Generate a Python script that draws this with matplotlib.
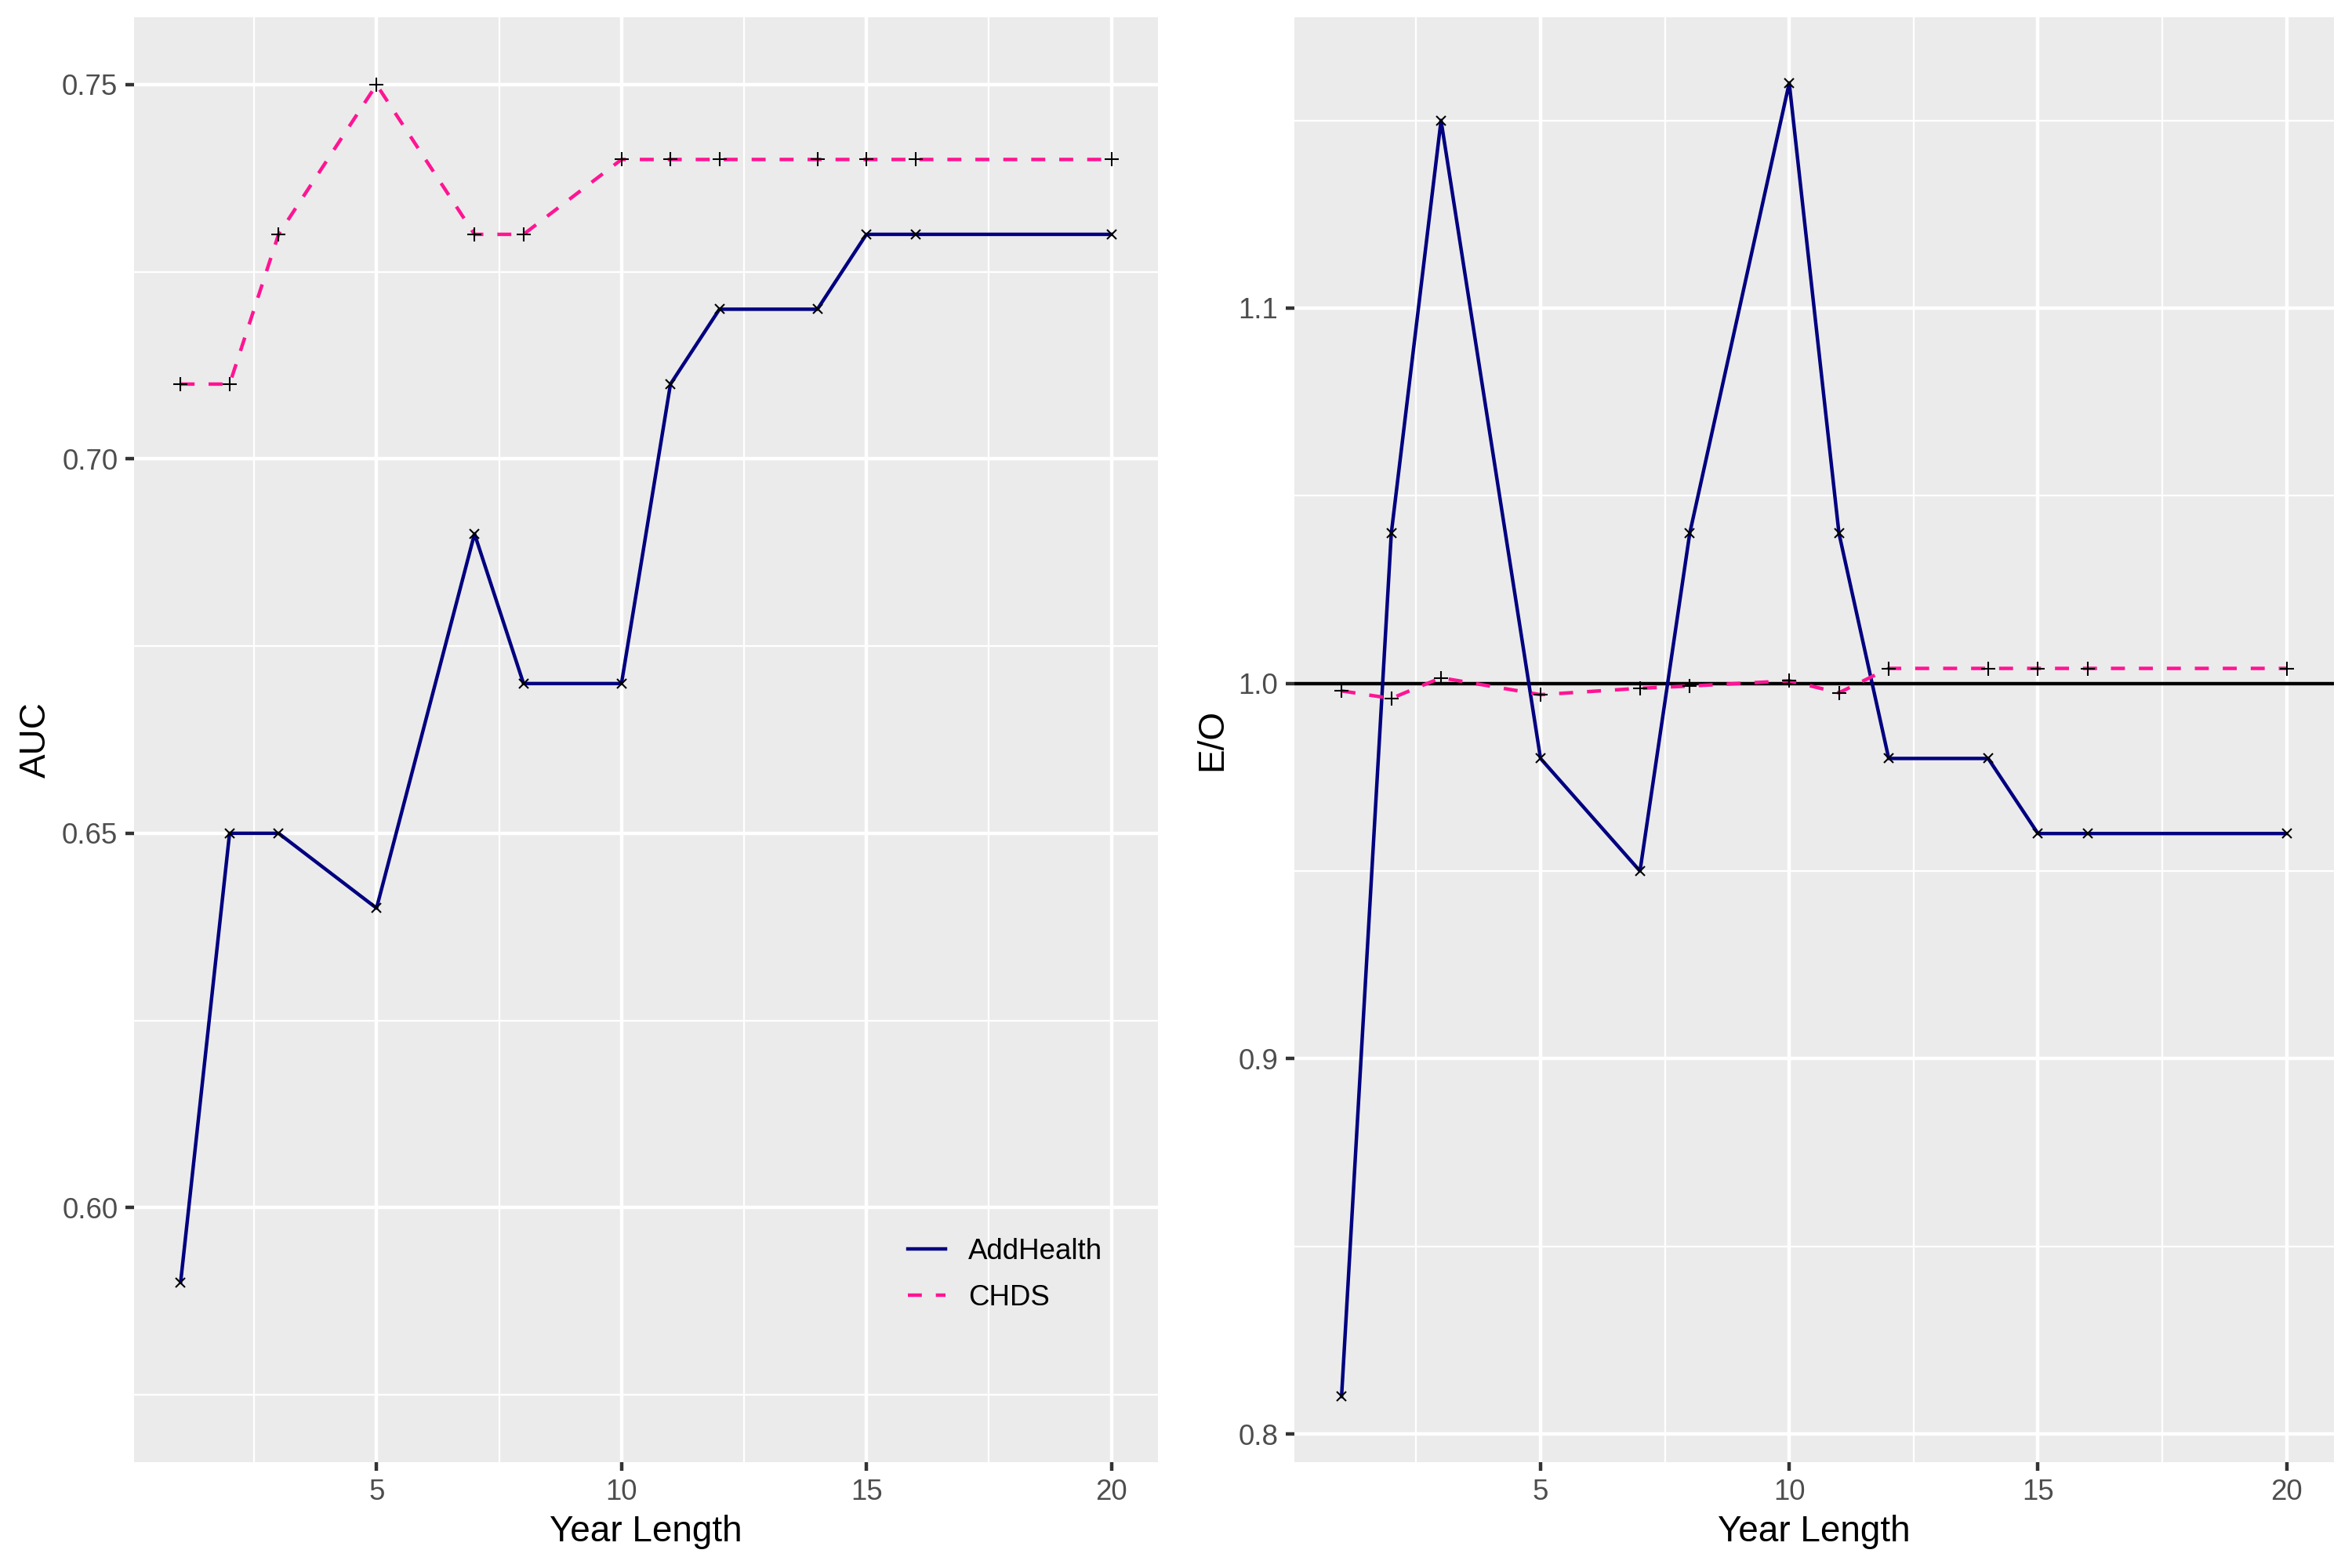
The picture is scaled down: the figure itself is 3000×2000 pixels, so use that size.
import matplotlib
matplotlib.use("Agg")
import matplotlib.pyplot as plt
from matplotlib.lines import Line2D
from matplotlib.ticker import FixedLocator

plt.rcParams['font.family'] = ['Liberation Sans', 'DejaVu Sans']

years = [1, 2, 3, 5, 7, 8, 10, 11, 12, 14, 15, 16, 20]
auc_addhealth = [0.59, 0.65, 0.65, 0.64, 0.69, 0.67, 0.67, 0.71, 0.72, 0.72, 0.73, 0.73, 0.73]
auc_chds = [0.71, 0.71, 0.73, 0.75, 0.73, 0.73, 0.74, 0.74, 0.74, 0.74, 0.74, 0.74, 0.74]
eo_addhealth = [0.81, 1.04, 1.15, 0.98, 0.95, 1.04, 1.16, 1.04, 0.98, 0.98, 0.96, 0.96, 0.96]
eo_chds = [0.998, 0.996, 1.0015, 0.997, 0.9987, 0.9993, 1.0007, 0.9975, 1.004, 1.004, 1.004, 1.004, 1.004]
series_names = ["AddHealth", "CHDS"]

x_major = [5, 10, 15, 20]
x_minor = [2.5, 7.5, 12.5, 17.5]
auc_major = [0.60, 0.65, 0.70, 0.75]
auc_minor = [0.575, 0.625, 0.675, 0.725]
eo_major = [0.8, 0.9, 1.0, 1.1]
eo_minor = [0.85, 0.95, 1.05, 1.15]

NAVY = "#000080"
PINK = "#FF1493"
LW = 1.07

fig = plt.figure(figsize=(10, 6.6667), dpi=300)
axL = fig.add_axes([0.057, 0.0675, 0.4353, 0.9215])
axR = fig.add_axes([0.5503, 0.0675, 0.442, 0.9215])


def style(ax, ymaj, ymin, ylim, ylabel, fmt):
    ax.set_facecolor("#EBEBEB")
    for s in ax.spines.values():
        s.set_visible(False)
    ax.set_xlim(0.05, 20.95)
    ax.set_ylim(*ylim)
    ax.xaxis.set_major_locator(FixedLocator(x_major))
    ax.xaxis.set_minor_locator(FixedLocator(x_minor))
    ax.yaxis.set_major_locator(FixedLocator(ymaj))
    ax.yaxis.set_minor_locator(FixedLocator(ymin))
    ax.set_xticklabels([str(v) for v in x_major])
    ax.set_yticklabels([fmt.format(v) for v in ymaj])
    ax.grid(which="major", color="white", linewidth=1.07)
    ax.grid(which="minor", color="white", linewidth=0.53)
    ax.set_axisbelow(True)
    ax.tick_params(which="major", length=2.75, width=1.07, color="#333333",
                   labelsize=8.8, labelcolor="#4D4D4D", pad=2.2)
    ax.tick_params(which="minor", length=0)
    ax.set_xlabel("Year Length", fontsize=11, color="black", labelpad=2.75)
    ax.set_ylabel(ylabel, fontsize=11, color="black", labelpad=2.75)


style(axL, auc_major, auc_minor, (0.566, 0.759), "AUC", "{:.2f}")
style(axR, eo_major, eo_minor, (0.7925, 1.1775), "E/O", "{:.1f}")

MK_X = dict(linestyle="none", marker="x", color="black", markersize=2.9,
            markeredgewidth=0.5, zorder=4)
MK_P = dict(linestyle="none", marker="+", color="black", markersize=4.4,
            markeredgewidth=0.5, zorder=4)

# Left panel
axL.plot(years, auc_addhealth, color=NAVY, lw=LW, zorder=3)
axL.plot(years, auc_chds, color=PINK, lw=LW, linestyle=(0, (4, 4)), zorder=3)
axL.plot(years, auc_addhealth, **MK_X)
axL.plot(years, auc_chds, **MK_P)

# Right panel
axR.axhline(1.0, color="black", lw=LW, zorder=2.5)
axR.plot(years, eo_addhealth, color=NAVY, lw=LW, zorder=3)
axR.plot(years, eo_chds, color=PINK, lw=LW, linestyle=(0, (4, 4)), zorder=3)
axR.plot(years, eo_addhealth, **MK_X)
axR.plot(years, eo_chds, **MK_P)

handles = [Line2D([], [], color=NAVY, lw=LW),
           Line2D([], [], color=PINK, lw=LW, linestyle=(0, (4, 4)))]
leg = axL.legend(handles, series_names, loc="center left",
                 bbox_to_anchor=(0.7557, 0.1297), frameon=False,
                 fontsize=8.8, handlelength=1.31, handletextpad=0.79,
                 labelspacing=0.64, borderpad=0, borderaxespad=0)

fig.savefig("out.png", dpi=300)
